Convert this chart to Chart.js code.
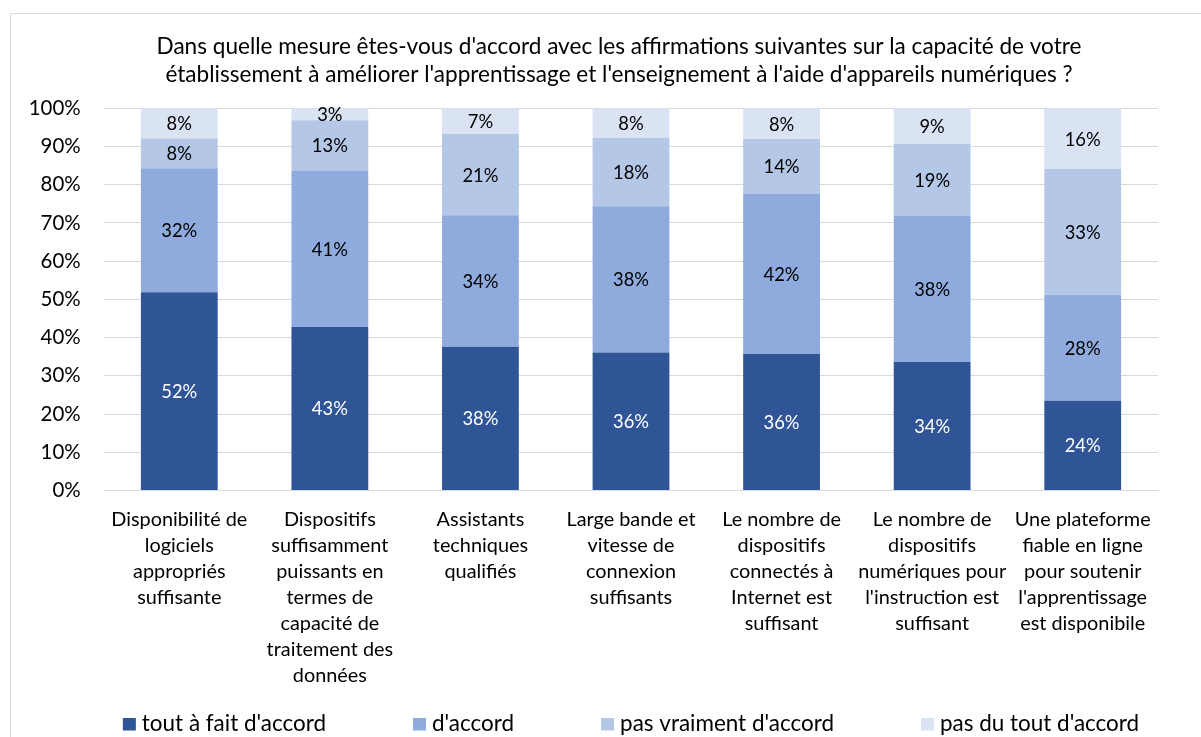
<!DOCTYPE html>
<html>
<head>
<meta charset="utf-8">
<script src="https://cdn.jsdelivr.net/npm/chart.js@4.4.1/dist/chart.umd.min.js"></script>
<style>
  html, body { margin: 0; padding: 0; background: #fff; }
  #wrap { width: 1201px; height: 737px; position: relative; }
</style>
</head>
<body>
<div id="wrap"><canvas id="c" width="1201" height="737"></canvas></div>
<script>
// ---------- DATA ----------
const titleLines = [
  "Dans quelle mesure êtes-vous d'accord avec les affirmations suivantes sur la capacité de votre",
  "établissement à améliorer l'apprentissage et l'enseignement à l'aide d'appareils numériques ?"
];
const categories = [
  ["Disponibilité de", "logiciels", "appropriés", "suffisante"],
  ["Dispositifs", "suffisamment", "puissants en", "termes de", "capacité de", "traitement des", "données"],
  ["Assistants", "techniques", "qualifiés"],
  ["Large bande et", "vitesse de", "connexion", "suffisants"],
  ["Le nombre de", "dispositifs", "connectés à", "Internet est", "suffisant"],
  ["Le nombre de", "dispositifs", "numériques pour", "l'instruction est", "suffisant"],
  ["Une plateforme", "fiable en ligne", "pour soutenir", "l'apprentissage", "est disponibile"]
];
const seriesNames = ["tout à fait d'accord", "d'accord", "pas vraiment d'accord", "pas du tout d'accord"];
const toutAFait   = [51.9, 42.8, 37.6, 36.1, 35.7, 33.6, 23.5];
const dAccord     = [32.4, 40.9, 34.4, 38.3, 41.9, 38.2, 27.7];
const pasVraiment = [ 7.8, 13.2, 21.3, 17.9, 14.4, 18.9, 32.9];
const pasDuTout   = [ 7.9,  3.1,  6.7,  7.7,  8.0,  9.3, 15.9];
const yMin = 0, yMax = 100, yStep = 10;

// ---------- STYLE ----------
const colors = ['#2F5597', '#8FAADC', '#B4C7E7', '#DAE3F3'];
const labelColors = ['#FFFFFF', '#000000', '#000000', '#000000'];
const FONT = 'Lato, "Open Sans", sans-serif';
const mctx = document.createElement('canvas').getContext('2d');
function fitSize(pairs) {
  mctx.font = '100px ' + FONT;
  let s = 0;
  pairs.forEach(([t, w]) => { s += 100 * w / mctx.measureText(t).width; });
  return s / pairs.length;
}
const titleSize = fitSize([[titleLines[0], 915], [titleLines[1], 917]]);
const catSize = fitSize([["Disponibilité de", 133.7], ["numériques pour", 149.5], ["traitement des", 127.6]]);
const legSize = fitSize([["tout à fait d'accord", 183.4], ["pas vraiment d'accord", 215]]);
const tickSize = fitSize([["100%", 52]]);
const dataSize = fitSize([["52%", 36], ["41%", 36]]);

const frame = {
  id: 'frame',
  beforeDraw(chart) {
    const ctx = chart.ctx;
    ctx.save();
    ctx.fillStyle = '#fff';
    ctx.fillRect(0, 0, chart.width, chart.height);
    ctx.strokeStyle = '#d9d9d9';
    ctx.lineWidth = 1;
    ctx.strokeRect(10.5, 13.5, chart.width + 20, chart.height + 20);
    ctx.restore();
  }
};

const customTitle = {
  id: 'customTitle',
  afterDraw(chart) {
    const ctx = chart.ctx;
    ctx.save();
    ctx.font = titleSize.toFixed(2) + 'px ' + FONT;
    ctx.fillStyle = '#000';
    ctx.textAlign = 'center';
    ctx.textBaseline = 'middle';
    const cx = 619, y0 = 47, lh = 28;
    titleLines.forEach((t, i) => ctx.fillText(t, cx, y0 + i * lh));
    ctx.restore();
  }
};

const dataLabels = {
  id: 'dataLabels',
  afterDatasetsDraw(chart) {
    const ctx = chart.ctx;
    ctx.save();
    ctx.font = dataSize.toFixed(2) + 'px ' + FONT;
    ctx.textAlign = 'center';
    ctx.textBaseline = 'middle';
    chart.data.datasets.forEach((ds, i) => {
      const meta = chart.getDatasetMeta(i);
      meta.data.forEach((el, j) => {
        const v = ds.data[j];
        ctx.fillStyle = labelColors[i];
        ctx.fillText(Math.round(v) + '%', el.x, (el.y + el.base) / 2 + 1);
      });
    });
    ctx.restore();
  }
};

const customLegend = {
  id: 'customLegend',
  afterDraw(chart) {
    const ctx = chart.ctx;
    const box = 13, boxGap = 6, itemGap = 87;
    ctx.save();
    ctx.font = legSize.toFixed(2) + 'px ' + FONT;
    const widths = chart.data.datasets.map(d => ctx.measureText(d.label).width);
    const total = widths.reduce((a, w) => a + box + boxGap + w, 0) + itemGap * (widths.length - 1);
    const ca = chart.chartArea;
    let x = (ca.left + ca.right) / 2 - total / 2;
    const yc = 724;
    ctx.textBaseline = 'middle';
    ctx.textAlign = 'left';
    chart.data.datasets.forEach((d, i) => {
      ctx.fillStyle = d.backgroundColor;
      ctx.fillRect(x, yc - 6, box, 12.5);
      ctx.fillStyle = '#000';
      ctx.fillText(d.label, x + box + boxGap, yc);
      x += box + boxGap + widths[i] + itemGap;
    });
    ctx.restore();
  }
};

const seriesData = [toutAFait, dAccord, pasVraiment, pasDuTout];

new Chart(document.getElementById('c'), {
  type: 'bar',
  data: {
    labels: categories,
    datasets: seriesNames.map((n, i) => ({
      label: n,
      data: seriesData[i],
      backgroundColor: colors[i],
      borderWidth: 0,
      categoryPercentage: 1,
      barPercentage: 0.51
    }))
  },
  options: {
    responsive: false,
    animation: false,
    devicePixelRatio: 1,
    layout: { padding: { left: 20, right: 43, top: 108.3, bottom: 50 } },
    plugins: {
      legend: { display: false },
      tooltip: { enabled: false },
      title: { display: false }
    },
    scales: {
      x: {
        stacked: true,
        grid: { display: false, drawTicks: false },
        border: { display: true, color: '#d9d9d9', width: 1 },
        ticks: {
          color: '#000',
          font: { family: FONT, size: catSize, lineHeight: '26px' },
          padding: 16,
          maxRotation: 0,
          minRotation: 0,
          autoSkip: false
        },
        afterFit(s) { s.height = 196.5; }
      },
      y: {
        stacked: true,
        min: yMin,
        max: yMax,
        grid: { color: '#d9d9d9', lineWidth: 1, drawTicks: false },
        border: { display: false },
        ticks: {
          stepSize: yStep,
          color: '#000',
          font: { family: FONT, size: tickSize },
          padding: 23.3,
          autoSkip: false,
          callback: v => v + '%'
        },
        afterFit(s) { s.width = 84; }
      }
    }
  },
  plugins: [frame, customTitle, dataLabels, customLegend]
});
</script>
</body>
</html>
